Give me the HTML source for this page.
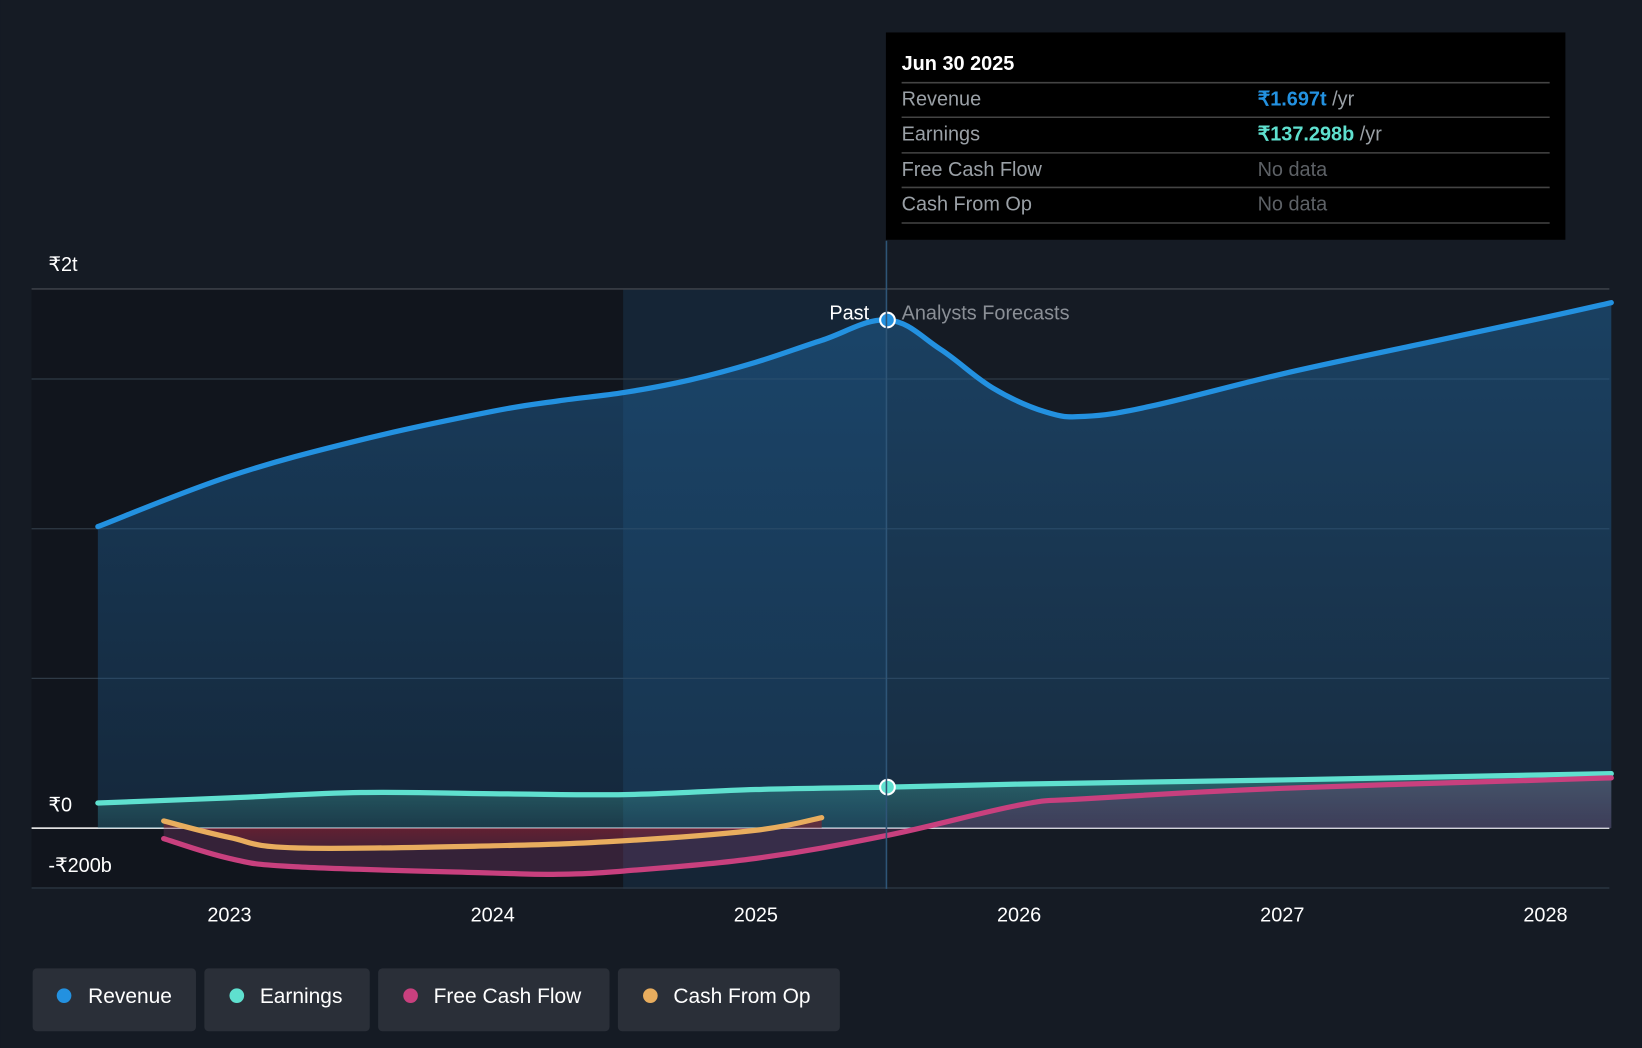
<!DOCTYPE html>
<html><head><meta charset="utf-8"><style>
html,body{margin:0;padding:0;background:#151b24;}
svg{display:block;font-family:"Liberation Sans",sans-serif;}
</style></head><body>
<svg id="chart" width="1642" height="1048" viewBox="0 0 1568 1001" xmlns="http://www.w3.org/2000/svg">
<defs>
<linearGradient id="revFill" x1="0" y1="0" x2="0" y2="1"><stop offset="0" stop-color="#1f5f94" stop-opacity="0.55"/><stop offset="1" stop-color="#1f5f94" stop-opacity="0.25"/></linearGradient>
<linearGradient id="earnFill" x1="0" y1="0" x2="0" y2="1"><stop offset="0" stop-color="#3fa39a" stop-opacity="0.45"/><stop offset="1" stop-color="#3fa39a" stop-opacity="0.15"/></linearGradient>
<linearGradient id="negFill" x1="0" y1="0" x2="0" y2="1"><stop offset="0" stop-color="#8a1f2c" stop-opacity="0.7"/><stop offset="1" stop-color="#8a1f2c" stop-opacity="0.2"/></linearGradient>
</defs>
<rect x="0" y="0" width="1568" height="1001" fill="#151b24"/>
<rect x="30" y="276" width="565" height="573" fill="#10141b" opacity="0.8"/>
<rect x="595" y="276" width="251" height="573" fill="#163a5a" opacity="0.35"/>
<g id="grid"></g>
<g id="areas"></g>
<g id="lines"></g>
<line x1="846.5" y1="230" x2="846.5" y2="849" stroke="#2e5577" stroke-width="1.5"/>
<text x="830" y="305" fill="#fff" font-size="19" text-anchor="end">Past</text>
<text x="861" y="305" fill="#8a8f96" font-size="19">Analysts Forecasts</text>
<g id="axis"></g>
<g>
<rect x="846" y="31" width="649" height="198" fill="#000"/>
<text x="861" y="67" fill="#fff" font-size="19" font-weight="bold">Jun 30 2025</text>
<line x1="861" y1="79" x2="1480" y2="79" stroke="#444" stroke-width="1.5"/>
<text x="861" y="101" fill="#9aa0a6" font-size="19">Revenue</text>
<text x="1201" y="101" fill="#2391e0" font-size="19" font-weight="bold">₹1.697t <tspan fill="#9aa0a6" font-weight="normal">/yr</tspan></text>
<line x1="861" y1="112" x2="1480" y2="112" stroke="#444" stroke-width="1.5"/>
<text x="861" y="134" fill="#9aa0a6" font-size="19">Earnings</text>
<text x="1201" y="134" fill="#5fe0cf" font-size="19" font-weight="bold">₹137.298b <tspan fill="#9aa0a6" font-weight="normal">/yr</tspan></text>
<line x1="861" y1="146" x2="1480" y2="146" stroke="#444" stroke-width="1.5"/>
<text x="861" y="168" fill="#9aa0a6" font-size="19">Free Cash Flow</text>
<text x="1201" y="168" fill="#5d6166" font-size="19">No data</text>
<line x1="861" y1="179" x2="1480" y2="179" stroke="#444" stroke-width="1.5"/>
<text x="861" y="201" fill="#9aa0a6" font-size="19">Cash From Op</text>
<text x="1201" y="201" fill="#5d6166" font-size="19">No data</text>
<line x1="861" y1="213" x2="1480" y2="213" stroke="#444" stroke-width="1.5"/>
</g>
<g>
<g><rect x="31" y="925" width="156" height="60" rx="4" fill="#2a2f38"/><circle cx="61" cy="951" r="7" fill="#2391e0"/><text x="84" y="958" fill="#fff" font-size="20">Revenue</text></g>
<g><rect x="195" y="925" width="158" height="60" rx="4" fill="#2a2f38"/><circle cx="226" cy="951" r="7" fill="#5fe0cf"/><text x="248" y="958" fill="#fff" font-size="20">Earnings</text></g>
<g><rect x="361" y="925" width="221" height="60" rx="4" fill="#2a2f38"/><circle cx="392" cy="951" r="7" fill="#c8407e"/><text x="414" y="958" fill="#fff" font-size="20">Free Cash Flow</text></g>
<g><rect x="590" y="925" width="212" height="60" rx="4" fill="#2a2f38"/><circle cx="621" cy="951" r="7" fill="#e8ad5e"/><text x="643" y="958" fill="#fff" font-size="20">Cash From Op</text></g>
</g>
</svg>
<script>
const revYears=[2022.5,2023,2023.5,2024,2024.25,2024.5,2024.75,2025,2025.25,2025.5,2025.7,2025.9,2026.1,2026.25,2026.5,2027,2027.5,2028,2028.25];
const revValues=[1007,1175,1297,1392,1427,1455,1497,1556,1629,1697,1600,1470,1390,1375,1409,1517,1612,1706,1755];
const earnYears=[2022.5,2023,2023.5,2024,2024.5,2025,2025.5,2026,2027,2028,2028.25];
const earnValues=[84,101,119,115,112,129,137,147,161,178,182];
const fcfYears=[2022.75,2023,2023.25,2024,2024.25,2024.5,2025,2025.5,2026,2026.25,2027,2028,2028.25];
const fcfValues=[-35,-101,-129,-150,-154,-143,-101,-24,77,98,133,161,168];
const cfoYears=[2022.75,2023,2023.25,2024,2024.5,2025,2025.25];
const cfoValues=[24,-31,-66,-59,-42,-7,35];
const xTicks=[2023,2024,2025,2026,2027,2028];
const yGrid=[1500,1000,500,0,-200];
const yLabels=["₹2t","₹0","-₹200b"];

const NS="http://www.w3.org/2000/svg";
const xs=y=>219+(y-2023)*251.4;
const ys=v=>791-v*0.286;
function el(tag,attrs,parent){const e=document.createElementNS(NS,tag);for(const k in attrs)e.setAttribute(k,attrs[k]);parent.appendChild(e);return e;}
function smooth(pts){let d=`M${pts[0][0]},${pts[0][1]}`;for(let i=0;i<pts.length-1;i++){const p0=pts[i-1]||pts[i],p1=pts[i],p2=pts[i+1],p3=pts[i+2]||p2;const t=0.18;d+=` C${p1[0]+(p2[0]-p0[0])*t},${p1[1]+(p2[1]-p0[1])*t} ${p2[0]-(p3[0]-p1[0])*t},${p2[1]-(p3[1]-p1[1])*t} ${p2[0]},${p2[1]}`;}return d;}
const gridG=document.getElementById('grid'),areasG=document.getElementById('areas'),linesG=document.getElementById('lines'),axisG=document.getElementById('axis');
const topLine=el('line',{x1:30,x2:1537,y1:276,y2:276,stroke:'#3a3f47','stroke-width':1.5},gridG);


yGrid.forEach(v=>{const l=el('line',{x1:30,x2:1537,y1:ys(v),y2:ys(v),stroke:v===0?'#ffffff':'#2f3a46','stroke-width':v===0?1.5:1.2},gridG);

});
[[252,0],[768,1],[826,2]].forEach(([y,i])=>{const t=el('text',{x:46,y:y+7,fill:'#fff','font-size':19},axisG);t.textContent=yLabels[i];

});
xTicks.forEach(y=>{const t=el('text',{x:xs(y),y:880,fill:'#fff','font-size':19,'text-anchor':'middle'},axisG);t.textContent=y;

});
function series(years,vals,color,fill,name){const pts=years.map((y,i)=>[xs(y),ys(vals[i])]);const d=smooth(pts);
const a=el('path',{d:d+` L${pts[pts.length-1][0]},791 L${pts[0][0]},791 Z`,fill:fill},areasG);


const l=el('path',{d:d,fill:'none',stroke:color,'stroke-width':5,'stroke-linecap':'round'},linesG);

}
series(revYears,revValues,'#2391e0','url(#revFill)','revenue');
series(earnYears,earnValues,'#5fe0cf','url(#earnFill)','earnings');
series(fcfYears,fcfValues,'#c8407e','rgba(120,60,110,0.35)','free-cash-flow');
series(cfoYears,cfoValues,'#e8ad5e','url(#negFill)','cash-from-op');
const c1=el('circle',{cx:xs(2025.5),cy:ys(revValues[9]),r:7,fill:'#2391e0',stroke:'#fff','stroke-width':2},linesG);


const c2=el('circle',{cx:xs(2025.5),cy:ys(earnValues[6]),r:7,fill:'#5fe0cf',stroke:'#fff','stroke-width':2},linesG);


</script>
</body></html>
